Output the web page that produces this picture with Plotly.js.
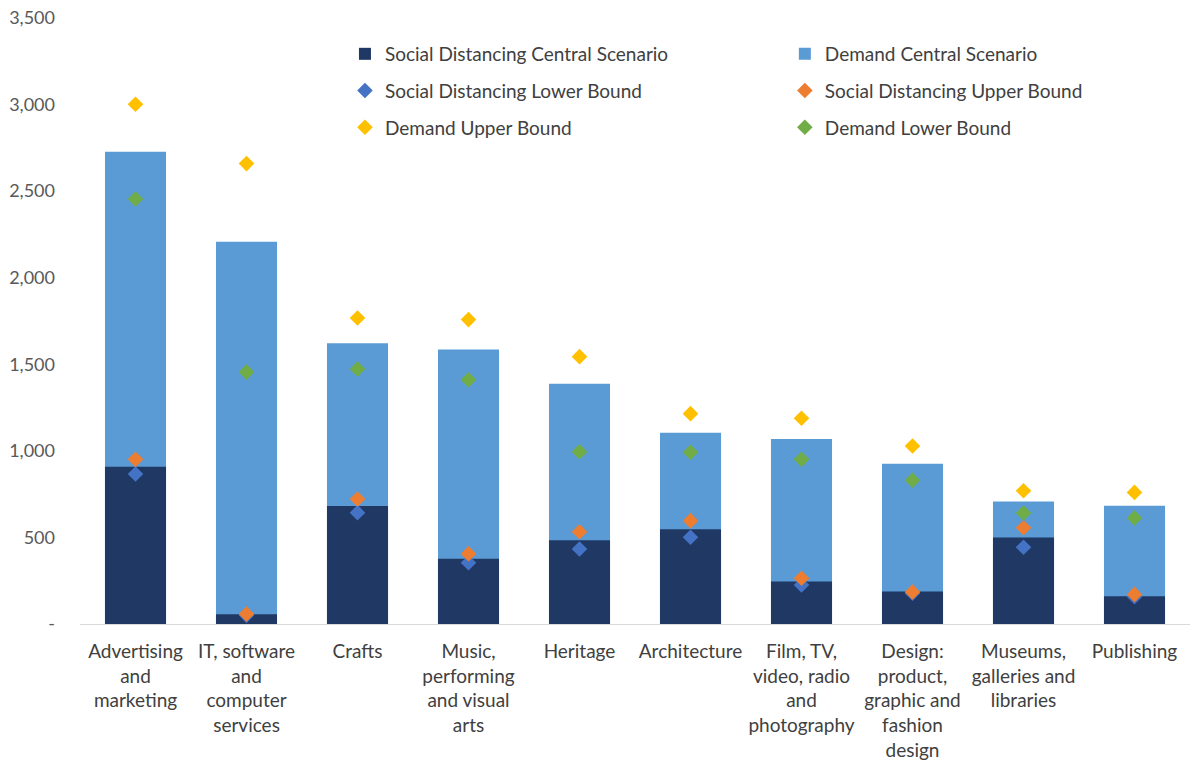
<!DOCTYPE html>
<html>
<head>
<meta charset="utf-8">
<script src="https://cdn.plot.ly/plotly-3.0.1.min.js"></script>
<style>
  html, body { margin: 0; padding: 0; background: #ffffff; }
  #chart { width: 1192px; height: 762px; }
</style>
</head>
<body>
<div id="chart"></div>
<script>
// Categories (x axis tick labels)
const categories = [
  "Advertising<br>and<br>marketing",
  "IT, software<br>and<br>computer<br>services",
  "Crafts",
  "Music,<br>performing<br>and visual<br>arts",
  "Heritage",
  "Architecture",
  "Film, TV,<br>video, radio<br>and<br>photography",
  "Design:<br>product,<br>graphic and<br>fashion<br>design",
  "Museums,<br>galleries and<br>libraries",
  "Publishing"
];

// Demand Central Scenario (bar top, total)
const demandCentral = [2728, 2208, 1621, 1586, 1388, 1105, 1068, 926, 707, 683];
// Social Distancing Central Scenario (dark bar)
const socialCentral = [908, 56, 682, 377, 483, 547, 245, 187, 499, 160];
// Diamonds
const socialLower = [866, 50, 643, 354, 433, 501, 225, 178, 443, 158];
const socialUpper = [951, 58, 722, 406, 533, 597, 264, 185, 556, 171];
const demandUpper = [3002, 2659, 1767, 1758, 1544, 1215, 1188, 1028, 770, 760];
const demandLower = [2455, 1455, 1473, 1411, 995, 992, 951, 830, 641, 612];

// Y axis ticks
const yTickVals = [0, 500, 1000, 1500, 2000, 2500, 3000, 3500];
const yTickText = ["-", "500", "1,000", "1,500", "2,000", "2,500", "3,000", "3,500"];

const FONT = "Lato, 'Open Sans', sans-serif";

function diamond(name, y, color, legend, group) {
  return {
    type: "scatter", mode: "markers", name: name,
    x: categories, y: y,
    marker: { symbol: "diamond", size: 12, color: color, line: { width: 0 } },
    legend: legend, legendgroup: group, hoverinfo: "name+y"
  };
}

const traces = [
  { type: "bar", name: "Demand Central Scenario", x: categories, y: demandCentral,
    marker: { color: "#5B9BD5", line: { width: 0 } }, legend: "legend2", legendgroup: "b1", legendrank: 1 },
  { type: "bar", name: "Social Distancing Central Scenario", x: categories, y: socialCentral,
    marker: { color: "#1F3864", line: { width: 0 } }, legend: "legend", legendgroup: "a1", legendrank: 1 },
  Object.assign(diamond("Social Distancing Lower Bound", socialLower, "#4472C4", "legend", "a2"), { legendrank: 2 }),
  Object.assign(diamond("Social Distancing Upper Bound", socialUpper, "#ED7D31", "legend2", "b2"), { legendrank: 2 }),
  Object.assign(diamond("Demand Upper Bound", demandUpper, "#FFC000", "legend", "a3"), { legendrank: 3 }),
  Object.assign(diamond("Demand Lower Bound", demandLower, "#70AD47", "legend2", "b3"), { legendrank: 3 })
];

const legendBase = {
  orientation: "v",
  xanchor: "left",
  yanchor: "top",
  y: 0.972,
  font: { family: FONT, size: 19, color: "#404040" },
  bgcolor: "rgba(0,0,0,0)",
  traceorder: "grouped",
  tracegroupgap: 9,
  itemclick: false,
  itemdoubleclick: false
};

const layout = {
  width: 1192,
  height: 762,
  margin: { l: 80, r: 2, t: 18, b: 138, autoexpand: false },
  paper_bgcolor: "#ffffff",
  plot_bgcolor: "#ffffff",
  barmode: "overlay",
  bargap: 0.45,
  showlegend: true,
  font: { family: FONT, size: 17, color: "#404040" },
  xaxis: {
    type: "category",
    range: [-0.5, categories.length - 0.5],
    showgrid: false,
    zeroline: false,
    showline: true,
    linecolor: "#D9D9D9",
    linewidth: 1,
    ticks: "",
    tickangle: 0,
    tickfont: { family: FONT, size: 19, color: "#404040" },
    ticklabelstandoff: 10,
    automargin: false
  },
  yaxis: {
    range: [0, 3500],
    showgrid: false,
    zeroline: false,
    showline: false,
    tickmode: "array",
    tickvals: yTickVals,
    ticktext: yTickText,
    tickfont: { family: FONT, size: 18, color: "#595959" },
    ticklabelstandoff: 24,
    automargin: false
  },
  legend: Object.assign({}, legendBase, { x: 0.2387 }),
  legend2: Object.assign({}, legendBase, { x: 0.635 })
};

Plotly.newPlot("chart", traces, layout, { displayModeBar: false, staticPlot: true });
</script>
</body>
</html>
